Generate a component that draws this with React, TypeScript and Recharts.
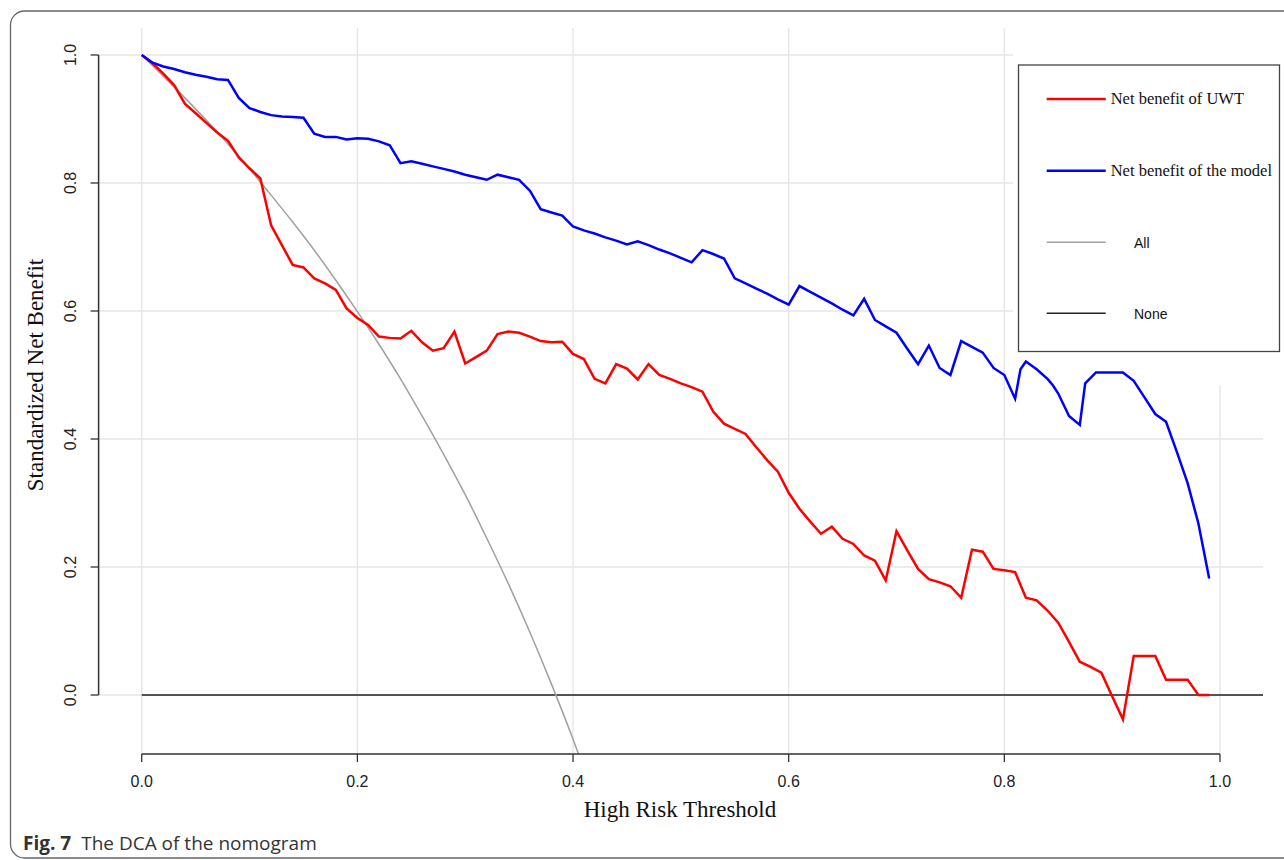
import { LineChart, Line, XAxis, YAxis, CartesianGrid, ReferenceArea } from 'recharts';

// threshold -> standardized net benefit
const uwtPoints: [number, number][] = [
  [0.00, 1.000], [0.01, 0.987], [0.02, 0.971], [0.03, 0.953], [0.04, 0.924],
  [0.05, 0.909], [0.06, 0.894], [0.07, 0.879], [0.08, 0.866], [0.09, 0.840],
  [0.10, 0.823], [0.11, 0.807], [0.12, 0.734], [0.13, 0.703], [0.14, 0.672],
  [0.15, 0.668], [0.16, 0.651], [0.17, 0.643], [0.18, 0.633], [0.19, 0.604],
  [0.20, 0.589], [0.21, 0.578], [0.22, 0.560], [0.23, 0.558], [0.24, 0.557],
  [0.25, 0.569], [0.26, 0.551], [0.27, 0.538], [0.28, 0.542], [0.29, 0.568],
  [0.30, 0.518], [0.31, 0.528], [0.32, 0.538], [0.33, 0.564], [0.34, 0.568],
  [0.35, 0.566], [0.36, 0.560], [0.37, 0.553], [0.38, 0.551], [0.39, 0.552],
  [0.40, 0.533], [0.41, 0.525], [0.42, 0.494], [0.43, 0.487], [0.44, 0.517],
  [0.45, 0.510], [0.46, 0.493], [0.47, 0.517], [0.48, 0.500], [0.49, 0.494],
  [0.50, 0.487], [0.51, 0.481], [0.52, 0.474], [0.53, 0.443], [0.54, 0.424],
  [0.55, 0.416], [0.56, 0.408], [0.57, 0.387], [0.58, 0.367], [0.59, 0.349],
  [0.60, 0.316], [0.61, 0.291], [0.62, 0.271], [0.63, 0.252], [0.64, 0.263],
  [0.65, 0.244], [0.66, 0.236], [0.67, 0.218], [0.68, 0.210], [0.69, 0.179],
  [0.70, 0.256], [0.71, 0.226], [0.72, 0.197], [0.73, 0.181], [0.74, 0.176],
  [0.75, 0.170], [0.76, 0.152], [0.77, 0.227], [0.78, 0.224], [0.79, 0.197],
  [0.80, 0.195], [0.81, 0.192], [0.82, 0.152], [0.83, 0.148], [0.84, 0.132],
  [0.85, 0.113], [0.86, 0.083], [0.87, 0.052], [0.88, 0.044], [0.89, 0.035],
  [0.90, -0.002], [0.91, -0.038], [0.92, 0.061], [0.93, 0.061], [0.94, 0.061],
  [0.95, 0.024], [0.96, 0.024], [0.97, 0.024], [0.98, 0.000], [0.99, 0.000],
];

const modelPoints: [number, number][] = [
  [0.00, 1.000], [0.01, 0.988], [0.02, 0.982], [0.03, 0.978], [0.04, 0.973],
  [0.05, 0.969], [0.06, 0.966], [0.07, 0.962], [0.08, 0.961], [0.09, 0.933],
  [0.10, 0.917], [0.11, 0.911], [0.12, 0.906], [0.13, 0.904], [0.14, 0.903],
  [0.15, 0.902], [0.16, 0.877], [0.17, 0.872], [0.18, 0.872], [0.19, 0.868],
  [0.20, 0.870], [0.21, 0.869], [0.22, 0.865], [0.23, 0.859], [0.24, 0.831],
  [0.25, 0.834], [0.26, 0.830], [0.27, 0.826], [0.28, 0.822], [0.29, 0.818],
  [0.30, 0.813], [0.31, 0.809], [0.32, 0.805], [0.33, 0.813], [0.34, 0.809],
  [0.35, 0.805], [0.36, 0.788], [0.37, 0.759], [0.38, 0.754], [0.39, 0.749],
  [0.40, 0.732], [0.41, 0.726], [0.42, 0.721], [0.43, 0.715], [0.44, 0.710],
  [0.45, 0.704], [0.46, 0.709], [0.47, 0.703], [0.48, 0.696], [0.49, 0.690],
  [0.50, 0.683], [0.51, 0.676], [0.52, 0.695], [0.53, 0.689], [0.54, 0.682],
  [0.55, 0.651], [0.56, 0.643], [0.57, 0.635], [0.58, 0.627], [0.59, 0.618],
  [0.60, 0.610], [0.61, 0.639], [0.62, 0.630], [0.63, 0.621], [0.64, 0.612],
  [0.65, 0.602], [0.66, 0.593], [0.67, 0.619], [0.68, 0.586], [0.69, 0.576],
  [0.70, 0.566], [0.71, 0.541], [0.72, 0.517], [0.73, 0.546], [0.74, 0.511],
  [0.75, 0.500], [0.76, 0.553], [0.77, 0.544], [0.78, 0.535], [0.79, 0.511],
  [0.80, 0.500], [0.81, 0.463], [0.815, 0.509], [0.82, 0.521], [0.83, 0.509],
  [0.84, 0.494], [0.845, 0.484], [0.85, 0.471], [0.86, 0.436], [0.87, 0.422],
  [0.875, 0.487], [0.885, 0.504], [0.91, 0.504], [0.92, 0.491], [0.93, 0.465],
  [0.94, 0.439], [0.95, 0.427], [0.96, 0.380], [0.97, 0.331], [0.98, 0.268],
  [0.99, 0.182],
];

const allPoints: [number, number][] = [
  [0.00, 1.000], [0.02, 0.967], [0.04, 0.933], [0.06, 0.898], [0.08, 0.861],
  [0.10, 0.822], [0.12, 0.781], [0.14, 0.739], [0.16, 0.695], [0.18, 0.648],
  [0.20, 0.599], [0.22, 0.548], [0.24, 0.494], [0.26, 0.436], [0.28, 0.376],
  [0.30, 0.313], [0.32, 0.245], [0.34, 0.174], [0.36, 0.098], [0.38, 0.017],
  [0.40, -0.069], [0.42, -0.162],
];

const nonePoints: [number, number][] = [[0, 0], [1.04, 0]];

const xTicks = [0, 0.2, 0.4, 0.6, 0.8, 1.0];
const yTicks = [0, 0.2, 0.4, 0.6, 0.8, 1.0];
const xDomain: [number, number] = [-0.04, 1.04];
const yDomain: [number, number] = [-0.092, 1.042];

const seriesNames = ['Net benefit of UWT', 'Net benefit of the model', 'All', 'None'];
const seriesColors = ['#ff0000', '#0000ff', '#a0a0a0', '#222222'];

const SERIF = '"Liberation Serif", "Times New Roman", serif';
const SANS = '"Liberation Sans", Arial, sans-serif';

// plot box inside the 1284x860 figure
const PLOT = { left: 98.6, top: 28.1, right: 1263.1, bottom: 753.9 };
const AXIS_W = 60;
const AXIS_H = 30;

const px = (v: number) => PLOT.left + ((v - xDomain[0]) / (xDomain[1] - xDomain[0])) * (PLOT.right - PLOT.left);
const py = (v: number) => PLOT.bottom - ((v - yDomain[0]) / (yDomain[1] - yDomain[0])) * (PLOT.bottom - PLOT.top);

const toRows = (pts: [number, number][]) => pts.map(([x, y]) => ({ x, y }));

const XTick = ({ x, y, payload }: any) => (
  <text x={x} y={y + 23} textAnchor="middle" fontFamily={SANS} fontSize={16} fill="#222">
    {Number(payload.value).toFixed(1)}
  </text>
);

const YTick = ({ x, y, payload }: any) => {
  const tx = x - 12.5;
  return (
    <text x={tx} y={y} transform={`rotate(-90 ${tx} ${y})`} textAnchor="middle" fontFamily={SANS} fontSize={16} fill="#222">
      {Number(payload.value).toFixed(1)}
    </text>
  );
};

function LegendBox() {
  const rows = [99, 170.7, 242.3, 313.3];
  return (
    <g>
      <rect x={1018.5} y={65} width={261} height={286.5} fill="#fff" stroke="#444" strokeWidth={1.3} />
      {seriesNames.map((name, i) => (
        <g key={name}>
          <line x1={1046.7} x2={1105.7} y1={rows[i]} y2={rows[i]} stroke={seriesColors[i]} strokeWidth={i < 2 ? 2.5 : 1.5} />
          {i < 2 ? (
            <text x={1110.7} y={rows[i] + 5} fontFamily={SERIF} fontSize={16.5} fill="#111">{name}</text>
          ) : (
            <text x={1134} y={rows[i] + 5.5} fontFamily={SANS} fontSize={14} fill="#111">{name}</text>
          )}
        </g>
      ))}
    </g>
  );
}

export default function App() {
  return (
    <div style={{ position: 'absolute', left: 0, top: 0, width: 1284, height: 860, overflow: 'hidden', background: '#fff' }}>
      <LineChart
        width={1284}
        height={860}
        margin={{ top: PLOT.top, right: 1284 - PLOT.right, bottom: 860 - PLOT.bottom - AXIS_H, left: PLOT.left - AXIS_W }}
      >
        <CartesianGrid stroke="#e6e6e6" strokeWidth={1.4} horizontalValues={yTicks} verticalValues={xTicks} />
        <XAxis
          type="number"
          dataKey="x"
          domain={xDomain}
          ticks={xTicks}
          allowDataOverflow
          axisLine={false}
          tickLine={{ stroke: '#333', strokeWidth: 1.3 }}
          tickSize={8}
          tick={<XTick />}
          height={AXIS_H}
        />
        <YAxis
          type="number"
          dataKey="y"
          domain={yDomain}
          ticks={yTicks}
          allowDataOverflow
          axisLine={false}
          tickLine={{ stroke: '#333', strokeWidth: 1.3 }}
          tickSize={8}
          tick={<YTick />}
          width={AXIS_W}
        />
        <ReferenceArea x1={0.808} x2={1.04} y1={0.484} y2={1.042} fill="#fff" fillOpacity={1} stroke="none" />
        <Line data={toRows(nonePoints)} dataKey="y" type="linear" stroke={seriesColors[3]} strokeWidth={1.5} dot={false} isAnimationActive={false} />
        <Line data={toRows(allPoints)} dataKey="y" type="monotone" stroke={seriesColors[2]} strokeWidth={1.5} dot={false} isAnimationActive={false} />
        <Line data={toRows(uwtPoints)} dataKey="y" type="linear" stroke={seriesColors[0]} strokeWidth={2.5} dot={false} isAnimationActive={false} />
        <Line data={toRows(modelPoints)} dataKey="y" type="linear" stroke={seriesColors[1]} strokeWidth={2.5} dot={false} isAnimationActive={false} />
      </LineChart>
      <svg width={1284} height={860} style={{ position: 'absolute', left: 0, top: 0 }}>
        {/* base-R style axes: the line runs from first to last tick only */}
        <path
          d={`M${px(xTicks[0])},${PLOT.bottom}H${px(xTicks[xTicks.length - 1])}M${PLOT.left},${py(yTicks[0])}V${py(yTicks[yTicks.length - 1])}`}
          stroke="#333"
          strokeWidth={1.5}
          fill="none"
        />
        <rect x={10.5} y={11} width={1300} height={847} rx={14} fill="none" stroke="#666" strokeWidth={1.3} />
        <LegendBox />
        <text x={680} y={817} textAnchor="middle" fontFamily={SERIF} fontSize={23} fill="#111">High Risk Threshold</text>
        <text x={43} y={375} transform="rotate(-90 43 375)" textAnchor="middle" fontFamily={SERIF} fontSize={23} fill="#111">Standardized Net Benefit</text>
        <text x={23} y={850} fontFamily='"Open Sans", "Noto Sans", sans-serif' fontSize={19} fill="#333">
          <tspan fontWeight={700}>Fig. 7</tspan>
          <tspan dx={10}>The DCA of the nomogram</tspan>
        </text>
      </svg>
    </div>
  );
}
